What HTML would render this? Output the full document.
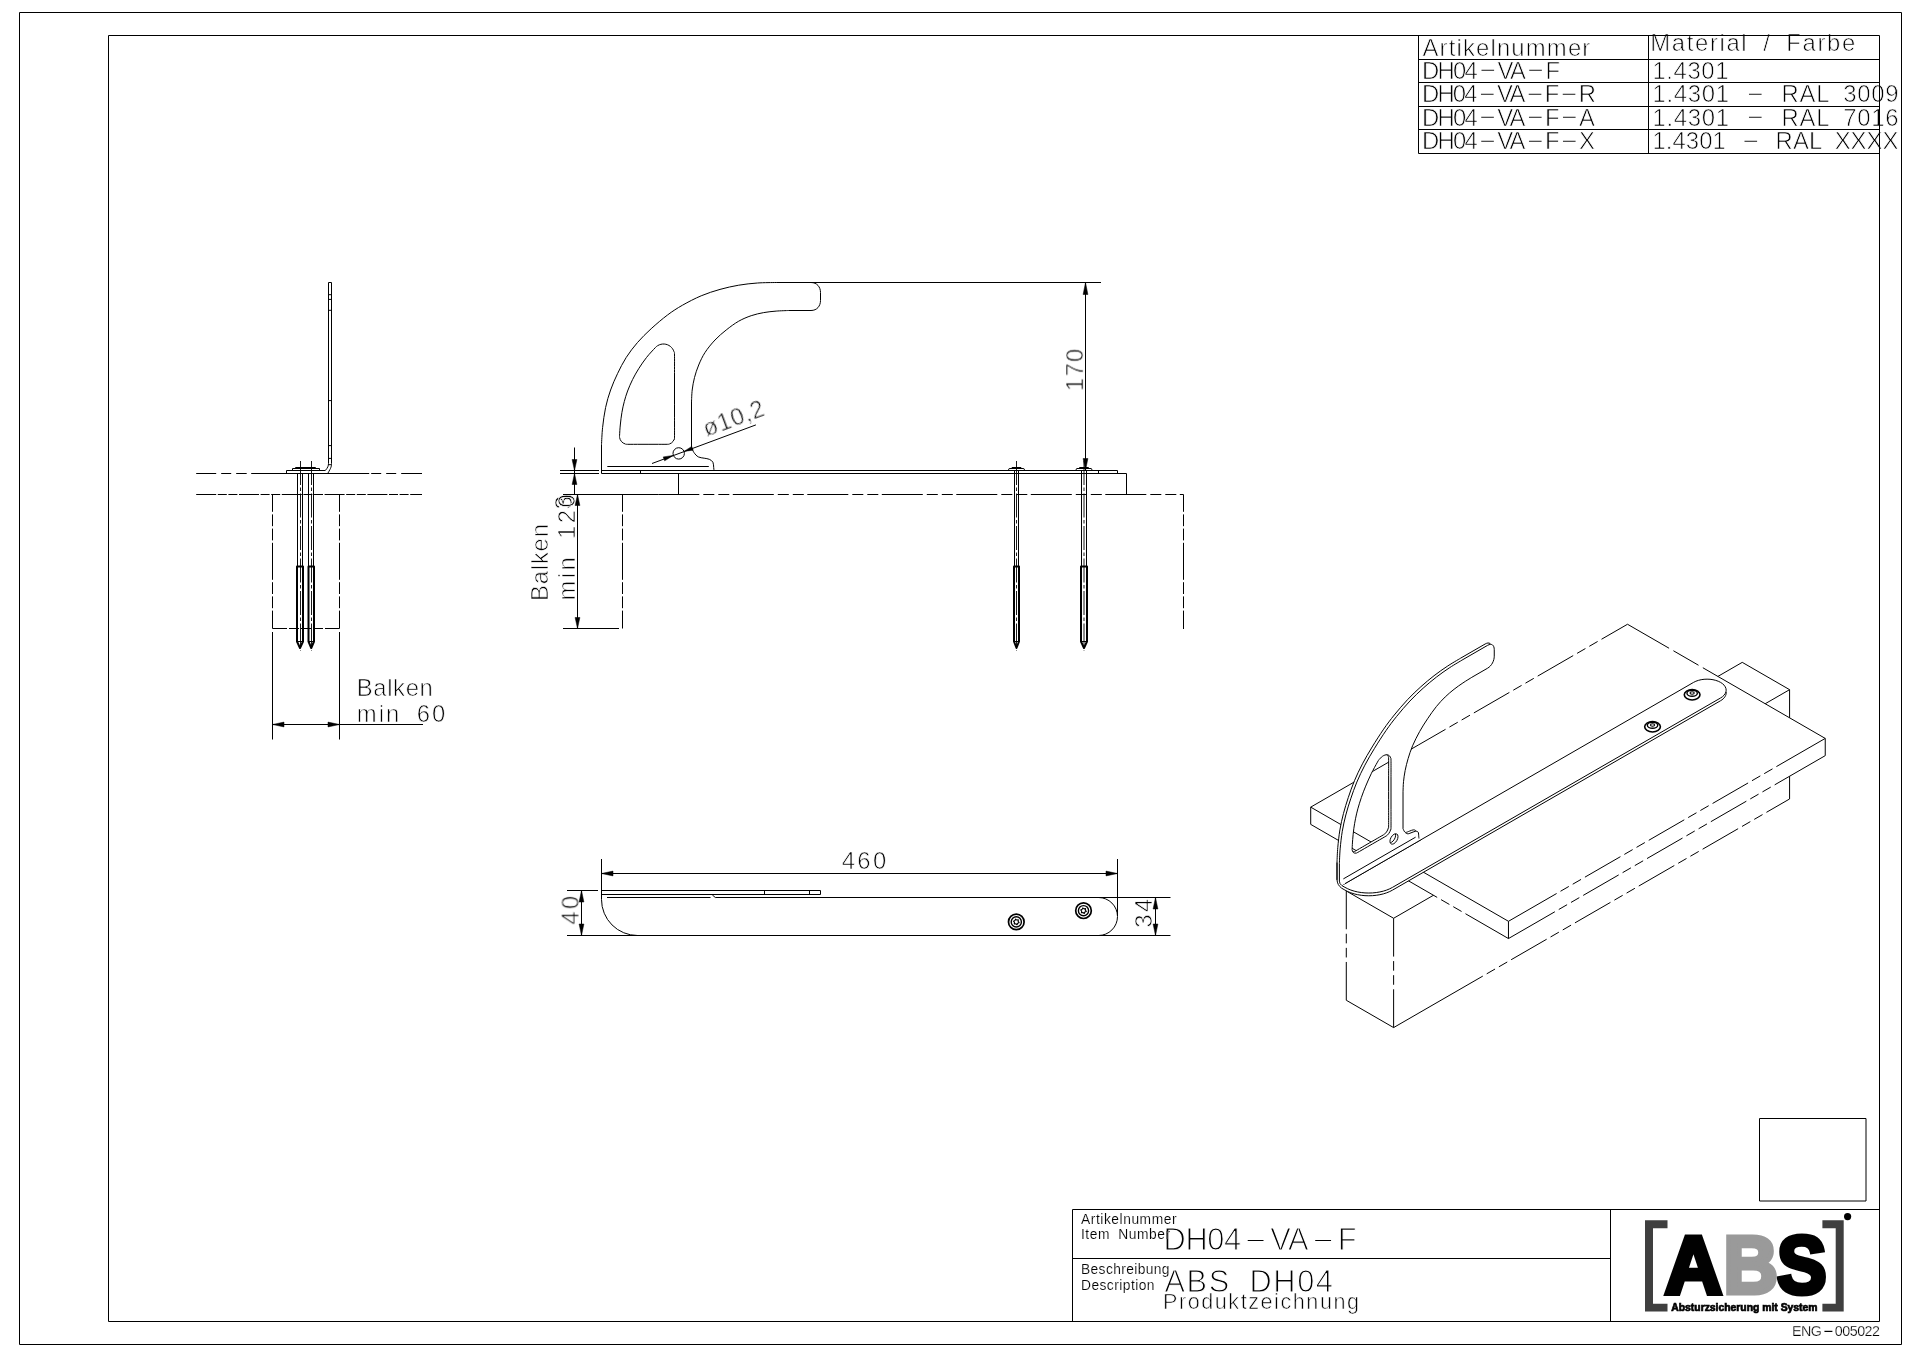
<!DOCTYPE html>
<html lang="de"><head><meta charset="utf-8"><title>ABS DH04 Produktzeichnung ENG-005022</title>
<style>
html,body{margin:0;padding:0;background:#fff}
body{width:1920px;height:1358px;overflow:hidden}
svg{display:block}
svg line,svg path,svg rect,svg circle,svg ellipse,svg polyline{fill:none;stroke:#000;stroke-width:1;stroke-linecap:butt;stroke-linejoin:round}
svg .fill{fill:#000;stroke:#000;stroke-width:.5}
svg .w{fill:#fff}
svg .d1{stroke-dasharray:21 5}
svg .d2{stroke-dasharray:34 5 14 5}
svg .d3{stroke-dasharray:24 5}
svg .cl{stroke-dasharray:24 2.5 3.5 2.5;stroke-width:.9}
svg .hv{stroke-width:2}
svg .cl2{stroke-dasharray:16 3 5 3}
svg .d4{stroke-dasharray:23 4 12 4}
svg .wd{stroke-dasharray:62 6 16 6}
svg .wd2{stroke-dasharray:44 6 30 6 110 6}
svg .wd3{stroke-dasharray:150 6 14 6 14 6}
svg text{font-family:"Liberation Sans",sans-serif;fill:#000}
svg .t{stroke:#fff;stroke-width:.8px;letter-spacing:0}
svg .ds{stroke-width:0}
svg .lg{font-weight:bold;stroke-linejoin:miter}
</style></head>
<body>
<svg width="1920" height="1358" viewBox="0 0 1920 1358">
<rect class="bg" x="0" y="0" width="1920" height="1358" style="fill:#fff;stroke:none"/>
<g id="labels" style="opacity:.999">
<text class="t" x="1422.5" y="55.9" style="font-size:23.9px;stroke-width:0.7px" textLength="167.8" lengthAdjust="spacing" xml:space="preserve">Artikelnummer</text>
<text class="t" x="1650.3" y="50.5" style="font-size:23.9px;stroke-width:0.7px;word-spacing:6.64px" textLength="205" lengthAdjust="spacing" xml:space="preserve">Material / Farbe</text>
<text class="t" x="1422" y="78.9" style="font-size:23.9px;stroke-width:0.7px" textLength="138" lengthAdjust="spacing" xml:space="preserve">DH04<tspan dy="10.47" style="font-size:69.31px;stroke-width:4.29px">-</tspan><tspan dy="-10.47">VA</tspan><tspan dy="10.47" style="font-size:69.31px;stroke-width:4.29px">-</tspan><tspan dy="-10.47">F</tspan></text>
<text class="t" x="1652.5" y="78.9" style="font-size:23.9px;stroke-width:0.7px" textLength="76" lengthAdjust="spacing" xml:space="preserve">1.4301</text>
<text class="t" x="1422" y="102.4" style="font-size:23.9px;stroke-width:0.7px" textLength="174" lengthAdjust="spacing" xml:space="preserve">DH04<tspan dy="10.47" style="font-size:69.31px;stroke-width:4.29px">-</tspan><tspan dy="-10.47">VA</tspan><tspan dy="10.47" style="font-size:69.31px;stroke-width:4.29px">-</tspan><tspan dy="-10.47">F</tspan><tspan dy="10.47" style="font-size:69.31px;stroke-width:4.29px">-</tspan><tspan dy="-10.47">R</tspan></text>
<text class="t" x="1652.5" y="102.4" style="font-size:23.9px;stroke-width:0.7px;word-spacing:6.64px" textLength="246" lengthAdjust="spacing" xml:space="preserve">1.4301 <tspan dy="10.47" style="font-size:69.31px;stroke-width:4.29px">-</tspan><tspan dy="-10.47"> RAL 3009</tspan></text>
<text class="t" x="1422" y="125.8" style="font-size:23.9px;stroke-width:0.7px" textLength="173" lengthAdjust="spacing" xml:space="preserve">DH04<tspan dy="10.47" style="font-size:69.31px;stroke-width:4.29px">-</tspan><tspan dy="-10.47">VA</tspan><tspan dy="10.47" style="font-size:69.31px;stroke-width:4.29px">-</tspan><tspan dy="-10.47">F</tspan><tspan dy="10.47" style="font-size:69.31px;stroke-width:4.29px">-</tspan><tspan dy="-10.47">A</tspan></text>
<text class="t" x="1652.5" y="125.8" style="font-size:23.9px;stroke-width:0.7px;word-spacing:6.64px" textLength="246" lengthAdjust="spacing" xml:space="preserve">1.4301 <tspan dy="10.47" style="font-size:69.31px;stroke-width:4.29px">-</tspan><tspan dy="-10.47"> RAL 7016</tspan></text>
<text class="t" x="1422" y="149.3" style="font-size:23.9px;stroke-width:0.7px" textLength="173" lengthAdjust="spacing" xml:space="preserve">DH04<tspan dy="10.47" style="font-size:69.31px;stroke-width:4.29px">-</tspan><tspan dy="-10.47">VA</tspan><tspan dy="10.47" style="font-size:69.31px;stroke-width:4.29px">-</tspan><tspan dy="-10.47">F</tspan><tspan dy="10.47" style="font-size:69.31px;stroke-width:4.29px">-</tspan><tspan dy="-10.47">X</tspan></text>
<text class="t" x="1652.5" y="149.3" style="font-size:23.9px;stroke-width:0.7px;word-spacing:6.64px" textLength="246" lengthAdjust="spacing" xml:space="preserve">1.4301 <tspan dy="10.47" style="font-size:69.31px;stroke-width:4.29px">-</tspan><tspan dy="-10.47"> RAL XXXX</tspan></text>
<text class="t" x="1163.5" y="1250.2" style="font-size:30.8px;stroke-width:1.1px" textLength="193" lengthAdjust="spacing" xml:space="preserve">DH04<tspan dy="13.49" style="font-size:89.32px;stroke-width:5.9px">-</tspan><tspan dy="-13.49">VA</tspan><tspan dy="13.49" style="font-size:89.32px;stroke-width:5.9px">-</tspan><tspan dy="-13.49">F</tspan></text>
<text class="t" x="1164.5" y="1291.8" style="font-size:30.8px;stroke-width:1.1px;word-spacing:8.56px" textLength="168.5" lengthAdjust="spacing" xml:space="preserve">ABS DH04</text>
<text class="t" x="1163" y="1308.8" style="font-size:21.6px;stroke-width:0.6px" textLength="196" lengthAdjust="spacing" xml:space="preserve">Produktzeichnung</text>
<text class="t" x="1081" y="1223.5" style="font-size:13.8px;stroke-width:0.15px" textLength="95.5" lengthAdjust="spacing" xml:space="preserve">Artikelnummer</text>
<text class="t" x="1081" y="1238.8" style="font-size:13.8px;stroke-width:0.15px;word-spacing:3.84px" textLength="89" lengthAdjust="spacing" xml:space="preserve">Item Number</text>
<text class="t" x="1081" y="1274.3" style="font-size:13.8px;stroke-width:0.15px" textLength="88.5" lengthAdjust="spacing" xml:space="preserve">Beschreibung</text>
<text class="t" x="1081" y="1290" style="font-size:13.8px;stroke-width:0.15px" textLength="73.5" lengthAdjust="spacing" xml:space="preserve">Description</text>
<text class="t" x="1792" y="1335.8" style="font-size:14.3px;stroke-width:0.25px" textLength="88" lengthAdjust="spacing" xml:space="preserve">ENG<tspan dy="6.26" style="font-size:41.47px;stroke-width:2.07px">-</tspan><tspan dy="-6.26">005022</tspan></text>
<text x="1847.6" y="1218.7" text-anchor="middle" style="font-size:6px;font-weight:bold;fill:#fff">®</text>
<text class="lg" x="1664.7" y="1292.8" textLength="57.4" lengthAdjust="spacingAndGlyphs" style="font-size:81.2px;fill:#000;stroke:#000;stroke-width:5px">A</text>
<text class="lg" x="1777.1" y="1292.8" textLength="49.6" lengthAdjust="spacingAndGlyphs" style="font-size:81.2px;fill:#000;stroke:#000;stroke-width:5px">S</text>
<text class="lg" x="1723.4" y="1292.8" textLength="54.4" lengthAdjust="spacingAndGlyphs" style="font-size:81.2px;fill:#9a9a9a;stroke:#9a9a9a;stroke-width:5px">B</text>
<text x="1671.3" y="1311.2" textLength="146.2" lengthAdjust="spacingAndGlyphs" style="font-size:10.6px;font-weight:bold;stroke:#000;stroke-width:.7px">Absturzsicherung mit System</text>
<text class="t" x="706.6" y="437" style="font-size:23.9px;stroke-width:0.7px" textLength="63.5" lengthAdjust="spacing" transform="rotate(-20.4 706.6 437)" xml:space="preserve">ø10,2</text>
<text class="t" x="1083.3" y="391.2" style="font-size:23.9px;stroke-width:0.7px" textLength="42.5" lengthAdjust="spacing" transform="rotate(-90 1083.3 391.2)" xml:space="preserve">170</text>
<text class="t" x="572.2" y="509.2" style="font-size:23.9px;stroke-width:0.7px" transform="rotate(-90 572.2 509.2)" xml:space="preserve">3</text>
<text class="t" x="547.8" y="601" style="font-size:23.9px;stroke-width:0.7px" textLength="77" lengthAdjust="spacing" transform="rotate(-90 547.8 601)" xml:space="preserve">Balken</text>
<text class="t" x="575.4" y="600.6" style="font-size:23.9px;stroke-width:0.7px;word-spacing:6.64px" textLength="106.5" lengthAdjust="spacing" transform="rotate(-90 575.4 600.6)" xml:space="preserve">min 120</text>
<text class="t" x="356.8" y="695.9" style="font-size:23.9px;stroke-width:0.7px" textLength="76" lengthAdjust="spacing" xml:space="preserve">Balken</text>
<text class="t" x="356.8" y="721.9" style="font-size:23.9px;stroke-width:0.7px;word-spacing:6.64px" textLength="88.5" lengthAdjust="spacing" xml:space="preserve">min 60</text>
<text class="t" x="841.8" y="869.4" style="font-size:23.9px;stroke-width:0.7px" textLength="44.4" lengthAdjust="spacing" xml:space="preserve">460</text>
<text class="t" x="578.4" y="924.8" style="font-size:23.9px;stroke-width:0.7px" textLength="29" lengthAdjust="spacing" transform="rotate(-90 578.4 924.8)" xml:space="preserve">40</text>
<text class="t" x="1151.9" y="927.8" style="font-size:23.9px;stroke-width:0.7px" textLength="29.2" lengthAdjust="spacing" transform="rotate(-90 1151.9 927.8)" xml:space="preserve">34</text>
</g>
<g id="geometry">
<rect x="19.5" y="12.5" width="1882" height="1332"/>
<rect x="108.5" y="35.5" width="1771" height="1286"/>
<line x1="1418.5" y1="59.5" x2="1879.5" y2="59.5"/>
<line x1="1418.5" y1="82.5" x2="1879.5" y2="82.5"/>
<line x1="1418.5" y1="106.5" x2="1879.5" y2="106.5"/>
<line x1="1418.5" y1="129.5" x2="1879.5" y2="129.5"/>
<line x1="1418.5" y1="153.5" x2="1879.5" y2="153.5"/>
<line x1="1418.5" y1="35.5" x2="1418.5" y2="153.5"/>
<line x1="1648.5" y1="35.5" x2="1648.5" y2="153.5"/>
<line x1="1072.5" y1="1209.5" x2="1879.5" y2="1209.5"/>
<line x1="1072.5" y1="1209.5" x2="1072.5" y2="1321.5"/>
<line x1="1072.5" y1="1258.5" x2="1610.5" y2="1258.5"/>
<line x1="1610.5" y1="1209.5" x2="1610.5" y2="1321.5"/>
<rect x="1759.5" y="1118.5" width="106.5" height="82.5"/>
<path style="fill:#3f3f3f;stroke:none" d="M1645 1220.3H1667.5V1228.2H1653V1303.7H1667.5V1311.5H1645Z"/>
<path style="fill:#3f3f3f;stroke:none" d="M1843.7 1220.3H1822.4V1228.2H1835.7V1303.7H1822.4V1311.5H1843.7Z"/>
<circle cx="1847.6" cy="1216.6" r="3.6" style="fill:#000;stroke:none"/>
<path d="M601.5 473.5 L601.5 444.7 C601.68 441.83 601.92 433.7 602.6 427.5 C603.28 421.3 604.27 413.75 605.6 407.5 C606.93 401.25 608.62 395.63 610.6 390 C612.58 384.37 614.9 379.12 617.5 373.7 C620.1 368.28 622.87 362.7 626.2 357.5 C629.53 352.3 633.33 347.3 637.5 342.5 C641.67 337.7 646.2 333.28 651.2 328.7 C656.2 324.12 662.28 318.92 667.5 315 C672.72 311.08 676.88 308.4 682.5 305.2 C688.12 302 694.95 298.43 701.2 295.8 C707.45 293.17 713.75 291.17 720 289.4 C726.25 287.63 732.45 286.27 738.7 285.2 C744.95 284.13 751.25 283.45 757.5 283 C763.75 282.55 773.08 282.58 776.2 282.5 L811 282.5 C817 282.5 820.5 287 820.5 292.5 L820.5 300.5 C820.5 306 817 310.5 811 310.5 L788.7 310.5 C786.62 310.6 780.37 310.75 776.2 311.1 C772.03 311.45 767.87 311.83 763.7 312.6 C759.53 313.37 755.37 314.27 751.2 315.7 C747.03 317.13 742.87 318.82 738.7 321.2 C734.53 323.58 730.15 326.87 726.2 330 C722.25 333.13 718.53 336.25 715 340 C711.47 343.75 707.72 348.33 705 352.5 C702.28 356.67 700.45 360.83 698.7 365 C696.95 369.17 695.58 373.33 694.5 377.5 C693.42 381.67 692.7 385.92 692.2 390 C691.7 394.08 691.62 400 691.5 402 L691.5 447.3 C691.92 448.18 692.87 451 694 452.6 C695.13 454.2 696.6 455.97 698.3 456.9 C700 457.83 702.37 457.8 704.2 458.2 C706.03 458.6 707.85 458.63 709.3 459.3 C710.75 459.97 712.17 460.83 712.9 462.2 C713.63 463.57 713.52 466.12 713.7 467.5 C713.88 468.88 713.95 470 714 470.5"/>
<path d="M655.33 347.64 C657.22 345.65 656.94 346.1 657.88 345.55 C658.81 344.99 659.87 344.56 660.93 344.3 C661.99 344.05 663.13 343.95 664.22 344.02 C665.3 344.09 666.43 344.34 667.44 344.73 C668.46 345.12 669.46 345.69 670.31 346.36 C671.16 347.03 671.95 347.87 672.57 348.77 C673.18 349.67 673.68 350.7 674.01 351.74 C674.33 352.78 674.42 351.12 674.5 355 C674.58 358.88 674.5 368.33 674.5 375 C674.5 381.67 674.5 388.33 674.5 395 C674.5 401.67 674.5 407.98 674.5 415 C674.5 422.02 674.56 433.05 674.5 437.1 C674.44 441.15 674.38 438.62 674.15 439.32 C673.92 440.03 673.56 440.73 673.12 441.33 C672.69 441.93 672.13 442.49 671.53 442.92 C670.93 443.36 670.23 443.72 669.52 443.95 C668.82 444.18 669.72 444.24 667.3 444.3 C664.88 444.36 659.38 444.3 655 444.3 C650.62 444.3 645.58 444.3 641 444.3 C636.42 444.3 630.12 444.35 627.5 444.3 C624.88 444.25 625.97 444.19 625.25 443.98 C624.53 443.77 623.81 443.44 623.18 443.03 C622.55 442.63 621.95 442.11 621.46 441.55 C620.97 440.98 620.54 440.32 620.23 439.64 C619.92 438.96 619.69 438.2 619.58 437.46 C619.48 436.72 619.46 437.26 619.58 435.19 C619.7 433.11 619.91 428.78 620.3 425 C620.69 421.22 621.23 416.42 621.9 412.5 C622.57 408.58 623.35 405.08 624.3 401.5 C625.25 397.92 626.22 394.67 627.6 391 C628.98 387.33 630.75 383.22 632.6 379.5 C634.45 375.78 636.38 372.37 638.7 368.7 C641.02 365.03 643.73 361.01 646.5 357.5 C649.27 353.99 653.43 349.63 655.33 347.64Z"/>
<line x1="607.3" y1="466.5" x2="708.8" y2="466.5"/>
<line x1="601.5" y1="470.5" x2="1117.5" y2="470.5"/>
<line x1="601.5" y1="473.5" x2="1126.5" y2="473.5"/>
<line x1="1117.5" y1="470.5" x2="1117.5" y2="473.5"/>
<line x1="1098.5" y1="470.5" x2="1098.5" y2="473.5"/>
<line x1="640.5" y1="471" x2="640.5" y2="473.5"/>
<line x1="678.5" y1="473.5" x2="678.5" y2="494.5"/>
<line x1="1126.5" y1="473.5" x2="1126.5" y2="494.5"/>
<line x1="563" y1="494.5" x2="658.3" y2="494.5"/>
<line x1="658.3" y1="494.5" x2="1183.5" y2="494.5" stroke-dasharray="41 4 11 4 11 3.5"/>
<line x1="622.5" y1="494.5" x2="622.5" y2="628.5" stroke-dasharray="17.3 2.6 11.8 2.4 11.8 2.4 37 2.4 11.8 2.4 11.8 2.4 30"/>
<line x1="1183.5" y1="494.5" x2="1183.5" y2="629" stroke-dasharray="17.3 2.6 11.8 2.4 11.8 2.4 37 2.4 11.8 2.4 11.8 2.4 30"/>
<circle cx="678.7" cy="453.4" r="5.7"/>
<line x1="652" y1="463.5" x2="755.9" y2="424.9"/>
<path class="fill" d="M673.3 455.4 L664.66 460.85 L663.2 456.92 Z"/>
<path class="fill" d="M684 451.4 L691.74 446.39 L693.13 450.14 Z"/>
<line x1="811" y1="282.5" x2="1101" y2="282.5"/>
<line x1="1085.5" y1="282.5" x2="1085.5" y2="470.5"/>
<path class="fill" d="M1085.5 282.5 L1087.9 294.5 L1083.1 294.5 Z"/>
<path class="fill" d="M1085.5 470.5 L1083.1 458.5 L1087.9 458.5 Z"/>
<line x1="560" y1="470.5" x2="599" y2="470.5"/>
<line x1="560" y1="473.5" x2="599" y2="473.5"/>
<line x1="574.5" y1="447.5" x2="574.5" y2="494.5"/>
<path class="fill" d="M574.5 470.5 L572.1 459.5 L576.9 459.5 Z"/>
<path class="fill" d="M574.5 473.5 L576.9 484.5 L572.1 484.5 Z"/>
<line x1="577.5" y1="494.5" x2="577.5" y2="628.5"/>
<line x1="563" y1="628.5" x2="619" y2="628.5"/>
<path class="fill" d="M577.5 494.5 L579.9 505.5 L575.1 505.5 Z"/>
<path class="fill" d="M577.5 628.5 L575.1 617.5 L579.9 617.5 Z"/>
<line x1="1016.5" y1="461" x2="1016.5" y2="650.5" class="cl"/>
<path d="M1008.2 470.5 L1009.2 468.5 L1023.8 468.5 L1024.8 470.5"/>
<path d="M1011.5 468.5 L1012 467.5 L1021 467.5 L1021.5 468.5"/>
<line x1="1014.5" y1="470.5" x2="1014.5" y2="566.5"/>
<line x1="1018.5" y1="470.5" x2="1018.5" y2="566.5"/>
<path d="M1014 566.5 L1014 641.5 L1016.5 648 L1019 641.5 L1019 566.5 Z" class="hv"/>
<line x1="1014" y1="641.5" x2="1019" y2="641.5"/>
<line x1="1084" y1="461" x2="1084" y2="650.5" class="cl"/>
<path d="M1075.7 470.5 L1076.7 468.5 L1091.3 468.5 L1092.3 470.5"/>
<path d="M1079 468.5 L1079.5 467.5 L1088.5 467.5 L1089 468.5"/>
<line x1="1081.5" y1="470.5" x2="1081.5" y2="566.5"/>
<line x1="1086.5" y1="470.5" x2="1086.5" y2="566.5"/>
<path d="M1081 566.5 L1081 641.5 L1084 648 L1087 641.5 L1087 566.5 Z" class="hv"/>
<line x1="1081" y1="641.5" x2="1087" y2="641.5"/>
<path d="M328.5 463.4 L328.5 282.5 L331.5 282.5 L331.5 463.4"/>
<path d="M331.5 463.4 C331.6 466 331.3 467.5 327.8 473.3"/>
<path d="M328.5 463.4 C328.4 466 328 467.4 325.3 470.5"/>
<line x1="328.5" y1="294.7" x2="331.5" y2="294.7"/>
<line x1="328.5" y1="299.4" x2="331.5" y2="299.4"/>
<line x1="328.5" y1="310.3" x2="331.5" y2="310.3"/>
<line x1="328.5" y1="400.6" x2="331.5" y2="400.6"/>
<line x1="328.5" y1="445.6" x2="331.5" y2="445.6"/>
<line x1="328.5" y1="458.4" x2="331.5" y2="458.4"/>
<line x1="328.5" y1="464.7" x2="331.5" y2="464.7"/>
<path d="M325.3 470.5 L286.5 470.5 L286.5 473.5"/>
<path d="M292.5 470.5 L292.5 468.5 L319.5 468.5 L319.5 470.5"/>
<path d="M295.5 468.5 L295.5 467.5 L315.5 467.5 L315.5 468.5"/>
<line x1="196.2" y1="473.5" x2="422" y2="473.5" stroke-dasharray="20 5 10 5 10.5 4.5 118 2 10 5 10 5 21"/>
<line x1="196.2" y1="494.5" x2="422" y2="494.5" stroke-dasharray="20 1.6 9 1.6 9 1.6"/>
<line x1="272.5" y1="494.5" x2="272.5" y2="628.5" stroke-dasharray="17.3 2.6 11.8 2.4 11.8 2.4 37 2.4 11.8 2.4 11.8 2.4 30"/>
<line x1="339.5" y1="494.5" x2="339.5" y2="628.5" stroke-dasharray="17.3 2.6 11.8 2.4 11.8 2.4 37 2.4 11.8 2.4 11.8 2.4 30"/>
<line x1="272.5" y1="628.5" x2="339.5" y2="628.5" stroke-dasharray="14.5 2 10 2 10 2 10 2 14.5"/>
<line x1="272.5" y1="632" x2="272.5" y2="739.5"/>
<line x1="339.5" y1="632" x2="339.5" y2="739.5"/>
<line x1="272.5" y1="724.5" x2="423" y2="724.5"/>
<path class="fill" d="M272.5 724.5 L284 722.1 L284 726.9 Z"/>
<path class="fill" d="M339.5 724.5 L328 726.9 L328 722.1 Z"/>
<line x1="300.5" y1="461" x2="300.5" y2="650.5" class="cl"/>
<line x1="297.5" y1="473.5" x2="297.5" y2="566.5"/>
<line x1="302.5" y1="473.5" x2="302.5" y2="566.5"/>
<path d="M297 566.5 L297 641.5 L300 648 L303 641.5 L303 566.5 Z" class="hv"/>
<line x1="297" y1="641.5" x2="303" y2="641.5"/>
<line x1="311.5" y1="461" x2="311.5" y2="650.5" class="cl"/>
<line x1="308.5" y1="473.5" x2="308.5" y2="566.5"/>
<line x1="313.5" y1="473.5" x2="313.5" y2="566.5"/>
<path d="M308.5 566.5 L308.5 641.5 L311.25 648 L314 641.5 L314 566.5 Z" class="hv"/>
<line x1="308.5" y1="641.5" x2="314" y2="641.5"/>
<path d="M601.5 859 L601.5 899.5 A36 36 0 0 0 637.5 935.5"/>
<path d="M601.5 890.5 L820.5 890.5 L820.5 894.5 L601.5 894.5"/>
<line x1="764.5" y1="890.5" x2="764.5" y2="894.5"/>
<line x1="809.5" y1="890.5" x2="809.5" y2="894.5"/>
<line x1="607" y1="897.5" x2="710.5" y2="897.5"/>
<path d="M712.3 894.9 L715.3 897.5 L1170.5 897.5"/>
<line x1="567" y1="935.5" x2="1170.5" y2="935.5"/>
<line x1="567" y1="890.5" x2="598" y2="890.5"/>
<path d="M1098.5 897.5 A19 19 0 0 1 1098.5 935.5"/>
<line x1="1117.5" y1="859" x2="1117.5" y2="916"/>
<line x1="601.5" y1="873.5" x2="1117.5" y2="873.5"/>
<path class="fill" d="M601.5 873.5 L613 871.1 L613 875.9 Z"/>
<path class="fill" d="M1117.5 873.5 L1106 875.9 L1106 871.1 Z"/>
<line x1="581.5" y1="890.5" x2="581.5" y2="935.5"/>
<path class="fill" d="M581.5 890.5 L583.9 902 L579.1 902 Z"/>
<path class="fill" d="M581.5 935.5 L579.1 924 L583.9 924 Z"/>
<line x1="1155.5" y1="897.5" x2="1155.5" y2="935.5"/>
<path class="fill" d="M1155.5 897.5 L1157.9 909 L1153.1 909 Z"/>
<path class="fill" d="M1155.5 935.5 L1153.1 924 L1157.9 924 Z"/>
<circle cx="1016.3" cy="921.9" r="7.8" style="stroke-width:1.7"/>
<circle cx="1016.3" cy="921.9" r="5.1" style="stroke-width:1.4"/>
<path d="M1019.1 922.65 L1017.64 923.24 L1017.05 924.7 L1015.81 923.74 L1014.25 923.95 L1014.46 922.39 L1013.5 921.15 L1014.96 920.56 L1015.55 919.1 L1016.79 920.06 L1018.35 919.85 L1018.14 921.41Z" style="stroke-width:1.1"/>
<circle cx="1083.5" cy="910.7" r="7.8" style="stroke-width:1.7"/>
<circle cx="1083.5" cy="910.7" r="5.1" style="stroke-width:1.4"/>
<path d="M1086.3 911.45 L1084.84 912.04 L1084.25 913.5 L1083.01 912.54 L1081.45 912.75 L1081.66 911.19 L1080.7 909.95 L1082.16 909.36 L1082.75 907.9 L1083.99 908.86 L1085.55 908.65 L1085.34 910.21Z" style="stroke-width:1.1"/>
<path d="M1346.29 890.96 L1742.25 662.35 L1789.58 689.67 L1393.62 918.28Z" style="fill:#fff;stroke:none"/>
<path d="M1346.29 890.96 L1393.62 918.28 L1393.62 1027.59 L1346.29 1000.26Z" style="fill:#fff;stroke:none"/>
<path d="M1393.62 918.28 L1789.58 689.67 L1789.58 798.98 L1393.62 1027.59Z" style="fill:#fff;stroke:none"/>
<line x1="1346.29" y1="890.96" x2="1393.62" y2="918.28"/>
<line x1="1393.62" y1="918.28" x2="1789.58" y2="689.67"/>
<line x1="1742.25" y1="662.35" x2="1346.29" y2="890.96"/>
<line x1="1742.25" y1="662.35" x2="1789.58" y2="689.67"/>
<line x1="1346.29" y1="890.96" x2="1346.29" y2="1000.26" stroke-dasharray="38.3 4.5 9.6 4.5 9.6 4.5 88.3"/>
<line x1="1393.62" y1="918.28" x2="1393.62" y2="1027.59" stroke-dasharray="38.3 4.5 9.6 4.5 9.6 4.5 88.3"/>
<line x1="1789.58" y1="689.67" x2="1789.58" y2="798.98"/>
<line x1="1346.29" y1="1000.26" x2="1393.62" y2="1027.59"/>
<line x1="1393.62" y1="1027.59" x2="1789.58" y2="798.98" stroke-dasharray="103 4.5 9.6 4.5 9.6 4.5 41 4.5 9.6 4.5 9.6 4.5 41 4.5 9.6 4.5 9.6 4.5 41 4.5 9.6 4.5 9.6 4.5 41 4.5 9.6 4.5 9.6 4.5 76.72"/>
<path d="M1310.71 807.14 L1627.5 624.25 L1825.24 738.41 L1508.46 921.31Z" style="fill:#fff;stroke:none"/>
<path d="M1310.71 807.14 L1508.46 921.31 L1508.46 938.55 L1310.71 824.38Z" style="fill:#fff;stroke:none"/>
<path d="M1508.46 921.31 L1825.24 738.41 L1825.24 755.65 L1508.46 938.55Z" style="fill:#fff;stroke:none"/>
<line x1="1627.5" y1="624.25" x2="1418.8" y2="744.74" stroke-dasharray="30 4.5 9.6 4.5 9.6 4.5 41 4.5 9.6 4.5 9.6 4.5 41 4.5 9.6 4.5 9.6 4.5 80.89"/>
<line x1="1418.8" y1="744.74" x2="1310.71" y2="807.14"/>
<line x1="1627.5" y1="624.25" x2="1825.24" y2="738.41" stroke-dasharray="48 5 29 5 400"/>
<line x1="1508.46" y1="921.31" x2="1825.24" y2="738.41" stroke-dasharray="55.6 4.5 9.6 4.5 9.6 4.5 41 4.5 9.6 4.5 9.6 4.5 41 4.5 9.6 4.5 9.6 4.5 41 4.5 9.6 4.5 9.6 4.5 106.39"/>
<line x1="1310.71" y1="807.14" x2="1508.46" y2="921.31"/>
<line x1="1310.71" y1="824.38" x2="1508.46" y2="938.55" stroke-dasharray="146 4.5 9.6 4.5 9.6 4.5 400"/>
<line x1="1508.46" y1="938.55" x2="1825.24" y2="755.65" stroke-dasharray="53.6 4.5 9.6 4.5 9.6 4.5 41 4.5 9.6 4.5 9.6 4.5 41 4.5 9.6 4.5 9.6 4.5 41 4.5 9.6 4.5 9.6 4.5 108.39"/>
<line x1="1310.71" y1="807.14" x2="1310.71" y2="824.38"/>
<line x1="1508.46" y1="921.31" x2="1508.46" y2="938.55"/>
<line x1="1825.24" y1="738.41" x2="1825.24" y2="755.65"/>
<path d="M1341.76 888.25 L1344.94 890.09 L1344.94 890.09 L1347.76 891.54 L1350.84 892.8 L1354.15 893.86 L1357.64 894.69 L1361.27 895.29 L1364.99 895.66 L1368.77 895.78 L1372.54 895.66 L1376.26 895.29 L1379.89 894.69 L1383.38 893.86 L1386.69 892.8 L1389.77 891.54 L1392.59 890.09 L1720.57 700.72 L1720.57 700.72 L1722.52 699.41 L1724.08 697.93 L1725.23 696.34 L1725.93 694.65 L1726.16 692.93 L1725.93 691.21 L1725.23 689.52 L1724.08 687.93 L1722.52 686.45 L1720.57 685.14 L1718.29 684.01 L1715.74 683.11 L1712.97 682.45 L1710.06 682.04 L1707.07 681.91 L1704.08 682.04 L1701.17 682.45 L1698.4 683.11 L1695.85 684.01 L1693.57 685.14 L1421.97 841.94Z" style="fill:#fff;stroke:none"/>
<path d="M1341.76 888.25 L1344.94 890.09 L1344.94 890.09 L1347.76 891.54 L1350.84 892.8 L1354.15 893.86 L1357.64 894.69 L1361.27 895.29 L1364.99 895.66 L1368.77 895.78 L1372.54 895.66 L1376.26 895.29 L1379.89 894.69 L1383.38 893.86 L1386.69 892.8 L1389.77 891.54 L1392.59 890.09 L1720.57 700.72 L1720.57 700.72 L1721.96 699.83 L1723.17 698.85 L1724.2 697.81 L1725.01 696.7 L1725.62 695.55 L1726 694.37 L1726.16 693.17 L1726.09 691.97"/>
<path d="M1341.76 885.5 L1344.94 887.33 L1344.94 887.33 L1347.76 888.79 L1350.84 890.05 L1354.15 891.11 L1357.64 891.94 L1361.27 892.54 L1364.99 892.91 L1368.77 893.03 L1372.54 892.91 L1376.26 892.54 L1379.89 891.94 L1383.38 891.11 L1386.69 890.05 L1389.77 888.79 L1392.59 887.33 L1720.57 697.97 L1720.57 697.97 L1722.52 696.66 L1724.08 695.18 L1725.23 693.59 L1725.93 691.9 L1726.16 690.18 L1725.93 688.45 L1725.23 686.77 L1724.08 685.17 L1722.52 683.7 L1720.57 682.38 L1718.29 681.26 L1715.74 680.36 L1712.97 679.7 L1710.06 679.29 L1707.07 679.16 L1704.08 679.29 L1701.17 679.7 L1698.4 680.36 L1695.85 681.26 L1693.57 682.38 L1421.97 839.19Z" style="fill:#fff"/>
<path d="M1337 879.81 L1339.38 881.19 L1418.8 835.34 L1421.97 839.19 L1341.76 885.5 L1341.76 888.25Z" style="fill:#fff;stroke:none"/>
<path d="M1337 880.03 L1337 861.98 C1337.13 859.57 1337.29 852.83 1337.78 847.49 C1338.26 842.15 1338.96 835.58 1339.9 829.93 C1340.84 824.29 1342.03 819.01 1343.44 813.6 C1344.84 808.19 1346.48 802.96 1348.31 797.47 C1350.15 791.99 1352.11 786.3 1354.47 780.69 C1356.82 775.09 1359.51 769.45 1362.46 763.83 C1365.4 758.21 1368.61 752.75 1372.15 746.97 C1375.68 741.19 1379.98 734.46 1383.67 729.13 C1387.36 723.8 1390.31 719.91 1394.28 715 C1398.25 710.1 1403.08 704.39 1407.5 699.69 C1411.92 694.99 1416.38 690.78 1420.8 686.79 C1425.22 682.8 1429.6 679.15 1434.02 675.73 C1438.44 672.3 1442.9 669.17 1447.32 666.25 C1451.74 663.33 1458.34 659.55 1460.54 658.21 L1485.15 644 C1489.39 641.55 1491.87 643.8 1491.87 648.29 L1491.87 654.82 C1491.87 659.31 1489.39 664.42 1485.15 666.87 L1469.38 675.97 C1467.91 676.9 1463.49 679.58 1460.54 681.56 C1457.6 683.55 1454.65 685.56 1451.7 687.89 C1448.76 690.22 1445.81 692.66 1442.86 695.53 C1439.92 698.4 1436.97 701.47 1434.02 705.12 C1431.08 708.77 1427.98 713.24 1425.18 717.41 C1422.39 721.58 1419.76 725.64 1417.26 730.15 C1414.76 734.65 1412.11 739.93 1410.19 744.44 C1408.27 748.95 1406.97 753.1 1405.74 757.22 C1404.5 761.33 1403.53 765.3 1402.77 769.14 C1402 772.98 1401.49 776.75 1401.14 780.29 C1400.79 783.82 1400.73 788.69 1400.64 790.37 L1400.64 827.36 C1400.94 827.91 1401.61 829.82 1402.41 830.67 C1403.21 831.51 1404.25 832.36 1405.45 832.42 C1406.66 832.49 1408.33 831.5 1409.63 831.08 C1410.92 830.65 1412.21 829.94 1413.23 829.89 C1414.26 829.84 1415.26 829.97 1415.78 830.79 C1416.3 831.61 1416.21 833.74 1416.34 834.79 C1416.47 835.85 1416.52 836.73 1416.56 837.12Z M1375.06 760.75 C1376.4 758.35 1376.21 758.84 1376.87 758 C1377.53 757.17 1378.28 756.38 1379.03 755.74 C1379.78 755.1 1380.59 754.55 1381.35 754.17 C1382.12 753.78 1382.91 753.53 1383.63 753.43 C1384.35 753.33 1385.06 753.39 1385.66 753.59 C1386.26 753.79 1386.82 754.15 1387.25 754.64 C1387.69 755.12 1388.05 755.75 1388.27 756.47 C1388.5 757.19 1388.56 755.8 1388.62 758.93 C1388.68 762.06 1388.62 769.82 1388.62 775.26 C1388.62 780.71 1388.62 786.15 1388.62 791.6 C1388.62 797.04 1388.62 802.2 1388.62 807.93 C1388.62 813.66 1388.66 822.64 1388.62 825.97 C1388.58 829.31 1388.54 827.26 1388.37 827.93 C1388.21 828.6 1387.96 829.32 1387.65 829.99 C1387.34 830.66 1386.95 831.34 1386.52 831.94 C1386.1 832.54 1385.6 833.12 1385.1 833.6 C1384.61 834.07 1385.24 833.76 1383.53 834.79 C1381.82 835.83 1377.93 838.02 1374.83 839.81 C1371.73 841.6 1368.17 843.66 1364.93 845.53 C1361.69 847.4 1357.24 850.01 1355.39 851.04 C1353.53 852.07 1354.3 851.57 1353.8 851.7 C1353.29 851.82 1352.78 851.84 1352.33 851.77 C1351.89 851.7 1351.46 851.52 1351.12 851.26 C1350.77 851 1350.47 850.63 1350.25 850.2 C1350.02 849.77 1349.87 849.25 1349.79 848.69 C1349.71 848.13 1349.7 848.58 1349.78 846.83 C1349.87 845.09 1350.02 841.47 1350.29 838.22 C1350.57 834.98 1350.95 830.83 1351.43 827.36 C1351.9 823.89 1352.45 820.71 1353.12 817.4 C1353.8 814.08 1354.48 811.04 1355.46 807.48 C1356.44 803.92 1357.68 799.84 1358.99 796.05 C1360.3 792.26 1361.67 788.68 1363.31 784.74 C1364.94 780.8 1366.86 776.4 1368.82 772.41 C1370.78 768.41 1373.72 763.15 1375.06 760.75Z M1395.62 835.24 C1395.62 835.83 1395.51 836.54 1395.32 837.2 C1395.12 837.86 1394.81 838.58 1394.44 839.21 C1394.08 839.84 1393.61 840.48 1393.14 840.98 C1392.66 841.48 1392.11 841.93 1391.59 842.22 C1391.08 842.52 1390.53 842.71 1390.05 842.76 C1389.58 842.81 1389.11 842.71 1388.74 842.5 C1388.38 842.29 1388.07 841.93 1387.87 841.5 C1387.67 841.06 1387.56 840.49 1387.56 839.89 C1387.56 839.3 1387.67 838.6 1387.87 837.94 C1388.07 837.27 1388.38 836.55 1388.74 835.92 C1389.11 835.29 1389.58 834.66 1390.05 834.16 C1390.53 833.66 1391.08 833.21 1391.59 832.91 C1392.11 832.62 1392.66 832.42 1393.14 832.38 C1393.61 832.33 1394.08 832.42 1394.44 832.63 C1394.81 832.84 1395.12 833.2 1395.32 833.64 C1395.51 834.07 1395.62 834.65 1395.62 835.24Z" style="fill:#fff;stroke:none;fill-rule:evenodd"/>
<path d="M1337 880.03 L1337 861.98 C1337.13 859.57 1337.29 852.83 1337.78 847.49 C1338.26 842.15 1338.96 835.58 1339.9 829.93 C1340.84 824.29 1342.03 819.01 1343.44 813.6 C1344.84 808.19 1346.48 802.96 1348.31 797.47 C1350.15 791.99 1352.11 786.3 1354.47 780.69 C1356.82 775.09 1359.51 769.45 1362.46 763.83 C1365.4 758.21 1368.61 752.75 1372.15 746.97 C1375.68 741.19 1379.98 734.46 1383.67 729.13 C1387.36 723.8 1390.31 719.91 1394.28 715 C1398.25 710.1 1403.08 704.39 1407.5 699.69 C1411.92 694.99 1416.38 690.78 1420.8 686.79 C1425.22 682.8 1429.6 679.15 1434.02 675.73 C1438.44 672.3 1442.9 669.17 1447.32 666.25 C1451.74 663.33 1458.34 659.55 1460.54 658.21 L1485.15 644 C1489.39 641.55 1491.87 643.8 1491.87 648.29 L1491.87 654.82 C1491.87 659.31 1489.39 664.42 1485.15 666.87 L1469.38 675.97 C1467.91 676.9 1463.49 679.58 1460.54 681.56 C1457.6 683.55 1454.65 685.56 1451.7 687.89 C1448.76 690.22 1445.81 692.66 1442.86 695.53 C1439.92 698.4 1436.97 701.47 1434.02 705.12 C1431.08 708.77 1427.98 713.24 1425.18 717.41 C1422.39 721.58 1419.76 725.64 1417.26 730.15 C1414.76 734.65 1412.11 739.93 1410.19 744.44 C1408.27 748.95 1406.97 753.1 1405.74 757.22 C1404.5 761.33 1403.53 765.3 1402.77 769.14 C1402 772.98 1401.49 776.75 1401.14 780.29 C1400.79 783.82 1400.73 788.69 1400.64 790.37 L1400.64 827.36 C1400.94 827.91 1401.61 829.82 1402.41 830.67 C1403.21 831.51 1404.25 832.36 1405.45 832.42 C1406.66 832.49 1408.33 831.5 1409.63 831.08 C1410.92 830.65 1412.21 829.94 1413.23 829.89 C1414.26 829.84 1415.26 829.97 1415.78 830.79 C1416.3 831.61 1416.21 833.74 1416.34 834.79 C1416.47 835.85 1416.52 836.73 1416.56 837.12"/>
<path d="M1375.06 760.75 C1376.4 758.35 1376.21 758.84 1376.87 758 C1377.53 757.17 1378.28 756.38 1379.03 755.74 C1379.78 755.1 1380.59 754.55 1381.35 754.17 C1382.12 753.78 1382.91 753.53 1383.63 753.43 C1384.35 753.33 1385.06 753.39 1385.66 753.59 C1386.26 753.79 1386.82 754.15 1387.25 754.64 C1387.69 755.12 1388.05 755.75 1388.27 756.47 C1388.5 757.19 1388.56 755.8 1388.62 758.93 C1388.68 762.06 1388.62 769.82 1388.62 775.26 C1388.62 780.71 1388.62 786.15 1388.62 791.6 C1388.62 797.04 1388.62 802.2 1388.62 807.93 C1388.62 813.66 1388.66 822.64 1388.62 825.97 C1388.58 829.31 1388.54 827.26 1388.37 827.93 C1388.21 828.6 1387.96 829.32 1387.65 829.99 C1387.34 830.66 1386.95 831.34 1386.52 831.94 C1386.1 832.54 1385.6 833.12 1385.1 833.6 C1384.61 834.07 1385.24 833.76 1383.53 834.79 C1381.82 835.83 1377.93 838.02 1374.83 839.81 C1371.73 841.6 1368.17 843.66 1364.93 845.53 C1361.69 847.4 1357.24 850.01 1355.39 851.04 C1353.53 852.07 1354.3 851.57 1353.8 851.7 C1353.29 851.82 1352.78 851.84 1352.33 851.77 C1351.89 851.7 1351.46 851.52 1351.12 851.26 C1350.77 851 1350.47 850.63 1350.25 850.2 C1350.02 849.77 1349.87 849.25 1349.79 848.69 C1349.71 848.13 1349.7 848.58 1349.78 846.83 C1349.87 845.09 1350.02 841.47 1350.29 838.22 C1350.57 834.98 1350.95 830.83 1351.43 827.36 C1351.9 823.89 1352.45 820.71 1353.12 817.4 C1353.8 814.08 1354.48 811.04 1355.46 807.48 C1356.44 803.92 1357.68 799.84 1358.99 796.05 C1360.3 792.26 1361.67 788.68 1363.31 784.74 C1364.94 780.8 1366.86 776.4 1368.82 772.41 C1370.78 768.41 1373.72 763.15 1375.06 760.75Z"/>
<path d="M1395.62 835.24 C1395.62 835.83 1395.51 836.54 1395.32 837.2 C1395.12 837.86 1394.81 838.58 1394.44 839.21 C1394.08 839.84 1393.61 840.48 1393.14 840.98 C1392.66 841.48 1392.11 841.93 1391.59 842.22 C1391.08 842.52 1390.53 842.71 1390.05 842.76 C1389.58 842.81 1389.11 842.71 1388.74 842.5 C1388.38 842.29 1388.07 841.93 1387.87 841.5 C1387.67 841.06 1387.56 840.49 1387.56 839.89 C1387.56 839.3 1387.67 838.6 1387.87 837.94 C1388.07 837.27 1388.38 836.55 1388.74 835.92 C1389.11 835.29 1389.58 834.66 1390.05 834.16 C1390.53 833.66 1391.08 833.21 1391.59 832.91 C1392.11 832.62 1392.66 832.42 1393.14 832.38 C1393.61 832.33 1394.08 832.42 1394.44 832.63 C1394.81 832.84 1395.12 833.2 1395.32 833.64 C1395.51 834.07 1395.62 834.65 1395.62 835.24Z"/>
<path d="M1339.38 881.4 L1339.38 863.36 C1339.51 860.94 1339.68 854.21 1340.16 848.86 C1340.64 843.52 1341.34 836.96 1342.28 831.31 C1343.22 825.66 1344.42 820.39 1345.82 814.98 C1347.22 809.57 1348.86 804.33 1350.7 798.85 C1352.54 793.37 1354.49 787.68 1356.85 782.07 C1359.21 776.46 1361.89 770.83 1364.84 765.21 C1367.79 759.59 1370.99 754.13 1374.53 748.35 C1378.06 742.56 1382.37 735.83 1386.06 730.5 C1389.74 725.18 1392.69 721.28 1396.66 716.38 C1400.63 711.47 1405.47 705.77 1409.89 701.07 C1414.31 696.36 1418.76 692.16 1423.18 688.16 C1427.6 684.17 1431.99 680.52 1436.41 677.1 C1440.83 673.68 1445.28 670.55 1449.7 667.63 C1454.12 664.71 1460.72 660.93 1462.92 659.59 L1487.53 645.38 C1491.78 642.93 1494.25 645.17 1494.25 649.66 L1494.25 656.2 C1494.25 660.69 1491.78 665.79 1487.53 668.24 L1471.76 677.35 C1470.29 678.28 1465.87 680.95 1462.92 682.94 C1459.98 684.93 1457.03 686.94 1454.08 689.27 C1451.14 691.59 1448.19 694.03 1445.24 696.9 C1442.3 699.77 1439.35 702.85 1436.41 706.5 C1433.46 710.14 1430.36 714.61 1427.57 718.79 C1424.77 722.96 1422.14 727.02 1419.65 731.52 C1417.15 736.03 1414.5 741.3 1412.57 745.81 C1410.65 750.33 1409.36 754.48 1408.12 758.59 C1406.88 762.71 1405.91 766.67 1405.15 770.52 C1404.38 774.36 1403.88 778.12 1403.52 781.66 C1403.17 785.2 1403.11 790.07 1403.03 791.75 L1403.03 828.74 C1403.32 829.29 1403.99 831.2 1404.8 832.04 C1405.6 832.89 1406.63 833.73 1407.84 833.8 C1409.04 833.87 1410.71 832.87 1412.01 832.45 C1413.3 832.03 1414.59 831.32 1415.61 831.27 C1416.64 831.22 1417.64 831.35 1418.16 832.17 C1418.68 832.98 1418.6 835.11 1418.73 836.17 C1418.86 837.22 1418.9 838.11 1418.94 838.49Z M1377.45 762.13 C1378.79 759.73 1378.59 760.21 1379.25 759.38 C1379.91 758.54 1380.66 757.75 1381.41 757.11 C1382.16 756.47 1382.97 755.93 1383.74 755.54 C1384.5 755.16 1385.3 754.9 1386.01 754.8 C1386.73 754.71 1387.44 754.76 1388.04 754.97 C1388.65 755.17 1389.2 755.53 1389.64 756.01 C1390.07 756.49 1390.43 757.13 1390.66 757.85 C1390.88 758.56 1390.95 757.18 1391.01 760.31 C1391.06 763.44 1391.01 771.2 1391.01 776.64 C1391.01 782.08 1391.01 787.53 1391.01 792.97 C1391.01 798.41 1391.01 803.57 1391.01 809.3 C1391.01 815.03 1391.05 824.01 1391.01 827.35 C1390.96 830.68 1390.92 828.64 1390.76 829.31 C1390.59 829.98 1390.34 830.7 1390.03 831.37 C1389.72 832.03 1389.33 832.72 1388.91 833.32 C1388.48 833.92 1387.99 834.5 1387.49 834.97 C1386.99 835.45 1387.63 835.13 1385.91 836.17 C1384.2 837.2 1380.32 839.4 1377.22 841.19 C1374.12 842.98 1370.56 845.03 1367.32 846.9 C1364.07 848.78 1359.62 851.39 1357.77 852.42 C1355.91 853.44 1356.69 852.95 1356.18 853.07 C1355.67 853.19 1355.16 853.22 1354.72 853.15 C1354.27 853.07 1353.85 852.9 1353.5 852.63 C1353.15 852.37 1352.85 852.01 1352.63 851.58 C1352.41 851.15 1352.25 850.62 1352.17 850.06 C1352.09 849.5 1352.08 849.95 1352.17 848.21 C1352.25 846.47 1352.4 842.84 1352.68 839.6 C1352.95 836.35 1353.34 832.21 1353.81 828.74 C1354.28 825.27 1354.83 822.09 1355.51 818.77 C1356.18 815.46 1356.86 812.41 1357.84 808.85 C1358.82 805.29 1360.07 801.21 1361.38 797.42 C1362.68 793.63 1364.05 790.05 1365.69 786.11 C1367.33 782.17 1369.25 777.78 1371.2 773.78 C1373.16 769.78 1376.11 764.53 1377.45 762.13Z M1398.01 836.62 C1398.01 837.21 1397.9 837.91 1397.7 838.57 C1397.5 839.24 1397.19 839.96 1396.83 840.59 C1396.46 841.22 1395.99 841.85 1395.52 842.35 C1395.04 842.85 1394.49 843.3 1393.98 843.6 C1393.46 843.89 1392.91 844.09 1392.43 844.13 C1391.96 844.18 1391.49 844.09 1391.13 843.88 C1390.76 843.67 1390.45 843.31 1390.25 842.87 C1390.05 842.44 1389.94 841.86 1389.94 841.27 C1389.94 840.68 1390.05 839.97 1390.25 839.31 C1390.45 838.65 1390.76 837.93 1391.13 837.3 C1391.49 836.67 1391.96 836.04 1392.43 835.53 C1392.91 835.03 1393.46 834.59 1393.98 834.29 C1394.49 833.99 1395.04 833.8 1395.52 833.75 C1395.99 833.71 1396.46 833.8 1396.83 834.01 C1397.19 834.22 1397.5 834.58 1397.7 835.01 C1397.9 835.45 1398.01 836.02 1398.01 836.62Z" style="fill:#fff;stroke:none;fill-rule:evenodd"/>
<path d="M1339.38 881.4 L1339.38 863.36 C1339.51 860.94 1339.68 854.21 1340.16 848.86 C1340.64 843.52 1341.34 836.96 1342.28 831.31 C1343.22 825.66 1344.42 820.39 1345.82 814.98 C1347.22 809.57 1348.86 804.33 1350.7 798.85 C1352.54 793.37 1354.49 787.68 1356.85 782.07 C1359.21 776.46 1361.89 770.83 1364.84 765.21 C1367.79 759.59 1370.99 754.13 1374.53 748.35 C1378.06 742.56 1382.37 735.83 1386.06 730.5 C1389.74 725.18 1392.69 721.28 1396.66 716.38 C1400.63 711.47 1405.47 705.77 1409.89 701.07 C1414.31 696.36 1418.76 692.16 1423.18 688.16 C1427.6 684.17 1431.99 680.52 1436.41 677.1 C1440.83 673.68 1445.28 670.55 1449.7 667.63 C1454.12 664.71 1460.72 660.93 1462.92 659.59 L1487.53 645.38 C1491.78 642.93 1494.25 645.17 1494.25 649.66 L1494.25 656.2 C1494.25 660.69 1491.78 665.79 1487.53 668.24 L1471.76 677.35 C1470.29 678.28 1465.87 680.95 1462.92 682.94 C1459.98 684.93 1457.03 686.94 1454.08 689.27 C1451.14 691.59 1448.19 694.03 1445.24 696.9 C1442.3 699.77 1439.35 702.85 1436.41 706.5 C1433.46 710.14 1430.36 714.61 1427.57 718.79 C1424.77 722.96 1422.14 727.02 1419.65 731.52 C1417.15 736.03 1414.5 741.3 1412.57 745.81 C1410.65 750.33 1409.36 754.48 1408.12 758.59 C1406.88 762.71 1405.91 766.67 1405.15 770.52 C1404.38 774.36 1403.88 778.12 1403.52 781.66 C1403.17 785.2 1403.11 790.07 1403.03 791.75 L1403.03 828.74 C1403.32 829.29 1403.99 831.2 1404.8 832.04 C1405.6 832.89 1406.63 833.73 1407.84 833.8 C1409.04 833.87 1410.71 832.87 1412.01 832.45 C1413.3 832.03 1414.59 831.32 1415.61 831.27 C1416.64 831.22 1417.64 831.35 1418.16 832.17 C1418.68 832.98 1418.6 835.11 1418.73 836.17 C1418.86 837.22 1418.9 838.11 1418.94 838.49"/>
<path d="M1377.45 762.13 C1378.79 759.73 1378.59 760.21 1379.25 759.38 C1379.91 758.54 1380.66 757.75 1381.41 757.11 C1382.16 756.47 1382.97 755.93 1383.74 755.54 C1384.5 755.16 1385.3 754.9 1386.01 754.8 C1386.73 754.71 1387.44 754.76 1388.04 754.97 C1388.65 755.17 1389.2 755.53 1389.64 756.01 C1390.07 756.49 1390.43 757.13 1390.66 757.85 C1390.88 758.56 1390.95 757.18 1391.01 760.31 C1391.06 763.44 1391.01 771.2 1391.01 776.64 C1391.01 782.08 1391.01 787.53 1391.01 792.97 C1391.01 798.41 1391.01 803.57 1391.01 809.3 C1391.01 815.03 1391.05 824.01 1391.01 827.35 C1390.96 830.68 1390.92 828.64 1390.76 829.31 C1390.59 829.98 1390.34 830.7 1390.03 831.37 C1389.72 832.03 1389.33 832.72 1388.91 833.32 C1388.48 833.92 1387.99 834.5 1387.49 834.97 C1386.99 835.45 1387.63 835.13 1385.91 836.17 C1384.2 837.2 1380.32 839.4 1377.22 841.19 C1374.12 842.98 1370.56 845.03 1367.32 846.9 C1364.07 848.78 1359.62 851.39 1357.77 852.42 C1355.91 853.44 1356.69 852.95 1356.18 853.07 C1355.67 853.19 1355.16 853.22 1354.72 853.15 C1354.27 853.07 1353.85 852.9 1353.5 852.63 C1353.15 852.37 1352.85 852.01 1352.63 851.58 C1352.41 851.15 1352.25 850.62 1352.17 850.06 C1352.09 849.5 1352.08 849.95 1352.17 848.21 C1352.25 846.47 1352.4 842.84 1352.68 839.6 C1352.95 836.35 1353.34 832.21 1353.81 828.74 C1354.28 825.27 1354.83 822.09 1355.51 818.77 C1356.18 815.46 1356.86 812.41 1357.84 808.85 C1358.82 805.29 1360.07 801.21 1361.38 797.42 C1362.68 793.63 1364.05 790.05 1365.69 786.11 C1367.33 782.17 1369.25 777.78 1371.2 773.78 C1373.16 769.78 1376.11 764.53 1377.45 762.13Z"/>
<path d="M1398.01 836.62 C1398.01 837.21 1397.9 837.91 1397.7 838.57 C1397.5 839.24 1397.19 839.96 1396.83 840.59 C1396.46 841.22 1395.99 841.85 1395.52 842.35 C1395.04 842.85 1394.49 843.3 1393.98 843.6 C1393.46 843.89 1392.91 844.09 1392.43 844.13 C1391.96 844.18 1391.49 844.09 1391.13 843.88 C1390.76 843.67 1390.45 843.31 1390.25 842.87 C1390.05 842.44 1389.94 841.86 1389.94 841.27 C1389.94 840.68 1390.05 839.97 1390.25 839.31 C1390.45 838.65 1390.76 837.93 1391.13 837.3 C1391.49 836.67 1391.96 836.04 1392.43 835.53 C1392.91 835.03 1393.46 834.59 1393.98 834.29 C1394.49 833.99 1395.04 833.8 1395.52 833.75 C1395.99 833.71 1396.46 833.8 1396.83 834.01 C1397.19 834.22 1397.5 834.58 1397.7 835.01 C1397.9 835.45 1398.01 836.02 1398.01 836.62Z"/>
<line x1="1343.35" y1="878.9" x2="1415.62" y2="837.17"/>
<line x1="1344.94" y1="883.67" x2="1421.97" y2="839.19"/>
<path d="M1337 879.54 Q1337.24 885.09 1341.76 888.25"/>
<path d="M1339.38 881.19 Q1339.54 883.85 1341.76 885.5"/>
<line x1="1337" y1="879.54" x2="1337" y2="862.58"/>
<ellipse cx="1652.54" cy="726.81" rx="7.86" ry="5.14" style="fill:#fff;stroke-width:1.6"/>
<ellipse cx="1652.54" cy="725.21" rx="5.19" ry="3" style="stroke-width:1.4"/>
<ellipse cx="1652.54" cy="725.01" rx="2.12" ry="1.23" style="stroke-width:1.1"/>
<ellipse cx="1692.14" cy="694.8" rx="7.86" ry="5.14" style="fill:#fff;stroke-width:1.6"/>
<ellipse cx="1692.14" cy="693.2" rx="5.19" ry="3" style="stroke-width:1.4"/>
<ellipse cx="1692.14" cy="693" rx="2.12" ry="1.23" style="stroke-width:1.1"/>
</g>
</svg>
</body></html>
